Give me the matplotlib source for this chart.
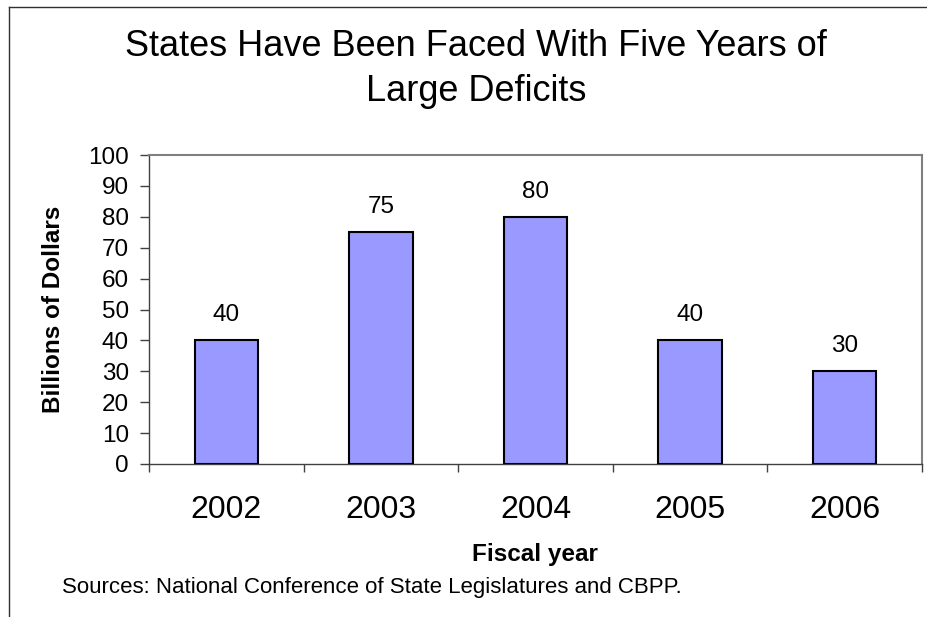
import matplotlib
matplotlib.use("Agg")
import matplotlib.pyplot as plt
from matplotlib.lines import Line2D

plt.rcParams['font.family'] = ['Liberation Sans', 'DejaVu Sans']

# data
years = ['2002', '2003', '2004', '2005', '2006']
deficits = [40, 75, 80, 40, 30]
y_ticks = list(range(0, 101, 10))

title = 'States Have Been Faced With Five Years of\nLarge Deficits'
source = 'Sources: National Conference of State Legislatures and CBPP.'

W, H = 928, 617
fig = plt.figure(figsize=(W / 100, H / 100), dpi=100)
ax = fig.add_axes([149 / W, 1 - 464 / H, (922 - 149) / W, (464 - 155) / H])

x = range(len(years))
ax.bar(x, deficits, width=0.41, color='#9999FF', edgecolor='black', linewidth=1.5, zorder=3)
for xi, v in zip(x, deficits):
    ax.annotate(str(v), (xi, v), xytext=(0, 18), textcoords='offset points',
                ha='center', va='center', fontsize=17.5)

ax.set_xlim(-0.5, len(years) - 0.5)
ax.set_ylim(0, 100)
ax.set_yticks(y_ticks)
ax.tick_params(axis='y', labelsize=17.5, length=6.5, width=1, color='#404040', pad=8)

# category labels, ticks between categories
ax.set_xticks(list(x))
ax.set_xticklabels(years, fontsize=23)
ax.tick_params(axis='x', which='major', length=0, pad=22)
ax.set_xticks([i - 0.5 for i in range(len(years) + 1)], minor=True)
ax.tick_params(axis='x', which='minor', length=6, width=1, color='#404040', direction='out')

for s in ['top', 'right']:
    ax.spines[s].set_color('#808080')
    ax.spines[s].set_linewidth(1.5)
for s in ['left', 'bottom']:
    ax.spines[s].set_color('#404040')
    ax.spines[s].set_linewidth(1)

fig.text(54 / W, 1 - 309 / H, 'Billions of Dollars', rotation=90, ha='center', va='center',
         fontsize=17.5, fontweight='bold')
fig.text(535 / W, 1 - 555 / H, 'Fiscal year', ha='center', va='center',
         fontsize=17.5, fontweight='bold')

fig.text(476 / W, 1 - 69 / H, title, ha='center', va='center', fontsize=26, linespacing=1.4)
fig.text(62 / W, 1 - 587 / H, source, ha='left', va='center', fontsize=16)

# outer chart border
fig.add_artist(Line2D([9 / W, 9 / W], [0, 1 - 7 / H], color='#303030', lw=1))
fig.add_artist(Line2D([9 / W, 1], [1 - 7 / H, 1 - 7 / H], color='#303030', lw=1))

fig.savefig('out.png', dpi=100)
